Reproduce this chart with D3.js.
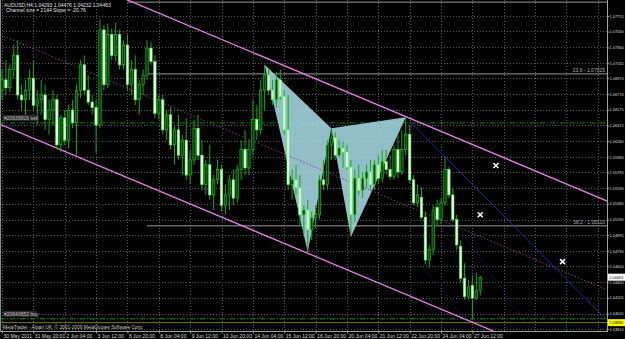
<!DOCTYPE html>
<html><head><meta charset="utf-8">
<script src="https://cdn.jsdelivr.net/npm/d3@7"></script>
<style>body{margin:0;background:#000;overflow:hidden}svg{display:block}</style>
</head><body>
<svg id="c" width="625" height="339"></svg>
<script>
// ---- data (prices) ----
const opens=[1.0682,1.0695,1.0685,1.0708,1.0726,1.0676,1.0670,1.0682,1.0697,1.0663,1.0670,1.0676,1.0645,1.0657,1.0670,1.0613,1.0647,1.0619,1.0657,1.0641,
1.0682,1.0714,1.0682,1.0667,1.0660,1.0638,1.0758,1.0689,1.0752,1.0726,1.0752,1.0714,1.0739,1.0689,1.0708,1.0670,1.0689,1.0701,1.0735,1.0718,
1.0653,1.0670,1.0632,1.0651,1.0613,1.0632,1.0600,1.0619,1.0575,1.0594,1.0634,1.0600,1.0563,1.0588,1.0550,1.0569,1.0582,1.0537,1.0550,1.0569,
1.0546,1.0582,1.0607,1.0584,1.0607,1.0645,1.0632,1.0682,1.0701,1.0682,1.0670,1.0695,1.0674,1.0632,1.0563,1.0569,1.0559,1.0525,1.0531,1.0506,
1.0521,1.0525,1.0569,1.0563,1.0613,1.0622,1.0600,1.0609,1.0604,1.0585,1.0525,1.0571,1.0556,1.0571,1.0579,1.0563,1.0588,1.0571,1.0592,1.0582,
1.0573,1.0607,1.0579,1.0607,1.0626,1.0569,1.0540,1.0547,1.0522,1.0468,1.0481,1.0534,1.0519,1.0540,1.0582,1.0550,1.0519,1.0485,1.0445,1.0422,
1.0436,1.0420,1.04293];
const highs=[1.0708,1.0720,1.0714,1.0739,1.0745,1.0689,1.0695,1.0708,1.0720,1.0682,1.0695,1.0689,1.0670,1.0682,1.0676,1.0651,1.0657,1.0663,1.0670,1.0689,
1.0720,1.0726,1.0701,1.0676,1.0670,1.0771,1.0764,1.0766,1.0760,1.0767,1.0758,1.0745,1.0752,1.0720,1.0726,1.0695,1.0708,1.0745,1.0743,1.0726,
1.0676,1.0676,1.0657,1.0661,1.0638,1.0651,1.0626,1.0647,1.0607,1.0645,1.0651,1.0619,1.0594,1.0613,1.0575,1.0594,1.0588,1.0563,1.0575,1.0582,
1.0588,1.0619,1.0632,1.0619,1.0670,1.0663,1.0695,1.0714,1.0710,1.0695,1.0705,1.0708,1.0682,1.0676,1.0582,1.0588,1.0575,1.0537,1.0544,1.0529,
1.0537,1.0575,1.0594,1.0619,1.0634,1.0629,1.0619,1.0617,1.0613,1.0594,1.0582,1.0588,1.0579,1.0588,1.0594,1.0594,1.0600,1.0607,1.0607,1.0600,
1.0613,1.0626,1.0632,1.0648,1.0638,1.0575,1.0563,1.0560,1.0529,1.0487,1.0537,1.0544,1.0546,1.0598,1.0585,1.0559,1.0525,1.0493,1.0464,1.0443,
1.0449,1.0452,1.04476];
const lows=[1.0670,1.0676,1.0680,1.0697,1.0670,1.0657,1.0647,1.0670,1.0657,1.0638,1.0651,1.0632,1.0626,1.0638,1.0607,1.0604,1.0613,1.0609,1.0634,1.0600,
1.0672,1.0676,1.0663,1.0651,1.0603,1.0634,1.0682,1.0685,1.0720,1.0718,1.0708,1.0708,1.0682,1.0676,1.0663,1.0651,1.0676,1.0695,1.0714,1.0647,
1.0645,1.0626,1.0619,1.0607,1.0588,1.0594,1.0575,1.0569,1.0563,1.0588,1.0594,1.0556,1.0550,1.0544,1.0531,1.0563,1.0529,1.0525,1.0531,1.0537,
1.0540,1.0569,1.0575,1.0575,1.0600,1.0619,1.0626,1.0657,1.0676,1.0663,1.0660,1.0670,1.0626,1.0556,1.0544,1.0550,1.0512,1.0500,1.0478,1.0493,
1.0508,1.0519,1.0556,1.0556,1.0594,1.0594,1.0597,1.0584,1.0582,1.0497,1.0516,1.0550,1.0546,1.0559,1.0556,1.0556,1.0563,1.0566,1.0575,1.0569,
1.0569,1.0571,1.0575,1.0600,1.0565,1.0537,1.0535,1.0519,1.0462,1.0458,1.0474,1.0512,1.0513,1.0536,1.0546,1.0516,1.0481,1.0440,1.0418,1.0418,
1.0393,1.0418,1.04232];
const closes=[1.0695,1.0685,1.0708,1.0726,1.0676,1.0670,1.0682,1.0697,1.0663,1.0670,1.0676,1.0645,1.0657,1.0670,1.0613,1.0647,1.0619,1.0657,1.0641,1.0682,
1.0714,1.0682,1.0667,1.0660,1.0638,1.0758,1.0689,1.0752,1.0726,1.0752,1.0714,1.0739,1.0689,1.0708,1.0670,1.0689,1.0701,1.0735,1.0718,1.0653,
1.0670,1.0632,1.0651,1.0613,1.0632,1.0600,1.0619,1.0575,1.0594,1.0634,1.0600,1.0563,1.0588,1.0550,1.0569,1.0582,1.0537,1.0550,1.0569,1.0546,
1.0582,1.0607,1.0584,1.0607,1.0645,1.0632,1.0682,1.0701,1.0682,1.0670,1.0695,1.0674,1.0632,1.0563,1.0569,1.0559,1.0525,1.0531,1.0506,1.0521,
1.0525,1.0569,1.0563,1.0613,1.0622,1.0600,1.0609,1.0604,1.0585,1.0525,1.0571,1.0556,1.0571,1.0579,1.0563,1.0588,1.0571,1.0592,1.0582,1.0573,
1.0607,1.0579,1.0607,1.0626,1.0569,1.0540,1.0550,1.0522,1.0468,1.0481,1.0531,1.0519,1.0540,1.0582,1.0550,1.0519,1.0487,1.0445,1.0422,1.0434,
1.0420,1.0429,1.04463];

const priceTicks=[1.07755,1.07560,1.07360,1.07165,1.06970,1.06770,1.06575,1.06375,1.06180,1.05980,1.05785,1.05590,1.05390,1.05190,1.04995,1.04795,1.04600,1.04400,1.04205,1.04005,1.03810];
const timeLabels=["30 May 2011","31 May 20:00","2 Jun 04:00","3 Jun 12:00","6 Jun 20:00","8 Jun 04:00","9 Jun 12:00","10 Jun 20:00","14 Jun 04:00","15 Jun 12:00","16 Jun 20:00","20 Jun 04:00","21 Jun 12:00","22 Jun 20:00","24 Jun 04:00","27 Jun 12:00"];
const timeGridBars=[0,8,16,24,32,40,48,56,64,72,80,88,96,104,112,120,128,136,144,152];

const patternXABCD=[[67,1.0714],[78,1.0478],[84,1.0634],[89,1.0497],[103,1.0648]];
const upperChannel=[[0,1.0862],[155,1.0541]];
const lowerChannel=[[-0.5,1.0639],[155,1.0317]];
const midChannel=[[-0.5,1.0752],[155,1.0429]];
const blueLine=[[104,1.0643],[155,1.0389]];
const blueDotted1=[[107.4,1.0459],[119.5,1.0385]];
const blueDotted2=[[116.8,1.0506],[134,1.0385]];
const crossMarks=[[126,1.0587],[122,1.0525],[143,1.0466]];
const fibLevels=[{label:"23.6 - 1.07025",price:1.07025},{label:"38.2 - 1.05110",price:1.05110}];
const fibTopLevel=1.0793;
const sellLevel=1.06407, buyLevel=1.03938, alertLevel=1.03890, lastPrice=1.04463;
const headerLines=["AUDUSD,H4  1.04293 1.04476 1.04232 1.04463","Channel size = 2144  Slope = -20.76"];

// ---- layout ----
const W=625,H=339,plotR=607,plotB=331;
const svg=d3.select("#c");
const x=d3.scaleLinear().domain([0,120]).range([2,472.4]);
const y=d3.scaleLinear().domain([1.03810,1.07755]).range([329,16]);
const font="'Liberation Sans',Arial,sans-serif";

svg.append("rect").attr("width",W).attr("height",H).attr("fill","#000");
svg.append("defs").append("clipPath").attr("id","clip").append("rect").attr("x",0).attr("y",0).attr("width",plotR).attr("height",plotB);
const g=svg.append("g").attr("clip-path","url(#clip)");

// grid
g.selectAll(".hg").data(priceTicks).join("line")
 .attr("x1",0).attr("x2",plotR).attr("y1",d=>Math.round(y(d))+0.5).attr("y2",d=>Math.round(y(d))+0.5)
 .attr("stroke","#5a5a5a").attr("stroke-dasharray","1,2");
g.selectAll(".vg").data(timeGridBars).join("line")
 .attr("y1",0).attr("y2",plotB).attr("x1",d=>Math.round(x(d))+0.5).attr("x2",d=>Math.round(x(d))+0.5)
 .attr("stroke","#5a5a5a").attr("stroke-dasharray","1,2");

// fib & level lines
g.append("line").attr("x1",x(32)).attr("x2",plotR).attr("y1",y(fibTopLevel)).attr("y2",y(fibTopLevel)).attr("stroke","#9a9a9a");
fibLevels.forEach(f=>{
  g.append("line").attr("x1",x(37)).attr("x2",plotR).attr("y1",y(f.price)).attr("y2",y(f.price)).attr("stroke","#9a9a9a");
  svg.append("text").attr("x",plotR-2).attr("y",y(f.price)-2).attr("text-anchor","end")
   .attr("font-family",font).attr("font-size",5).attr("fill","#b0b0b0").text(f.label);
});
g.append("line").attr("x1",0).attr("x2",plotR).attr("y1",y(sellLevel)).attr("y2",y(sellLevel)).attr("stroke","#0a8a0a").attr("stroke-dasharray","5,2,1,2");
g.append("line").attr("x1",0).attr("x2",plotR).attr("y1",y(buyLevel)).attr("y2",y(buyLevel)).attr("stroke","#0a9a0a").attr("stroke-dasharray","5,2,1,2");
g.append("line").attr("x1",0).attr("x2",plotR).attr("y1",y(alertLevel)).attr("y2",y(alertLevel)).attr("stroke","#7a7a10");

// harmonic pattern
const pt=d=>[x(d[0]),y(d[1])];
const P=patternXABCD;
[[P[0],P[1],P[2]],[P[2],P[3],P[4]]].forEach(tri=>{
  g.append("polygon").attr("points",tri.map(pt).map(p=>p.join(",")).join(" "))
   .attr("fill","#a6d8e4").attr("fill-opacity",0.88);
});

// channel & other lines
const line=d3.line().x(d=>x(d[0])).y(d=>y(d[1]));
g.append("path").attr("d",line(upperChannel)).attr("stroke","#e77fe7").attr("stroke-width",1.3).attr("fill","none");
g.append("path").attr("d",line(lowerChannel)).attr("stroke","#e77fe7").attr("stroke-width",1.3).attr("fill","none");
g.append("path").attr("d",line(midChannel)).attr("stroke","#8a3a8a").attr("stroke-dasharray","1.5,2").attr("fill","none");
g.append("path").attr("d",line(blueLine)).attr("stroke","#2a2ab0").attr("stroke-width",0.9).attr("fill","none");
g.append("path").attr("d",line(blueDotted1)).attr("stroke","#2525a0").attr("stroke-dasharray","1,2").attr("fill","none");
g.append("path").attr("d",line(blueDotted2)).attr("stroke","#2525a0").attr("stroke-dasharray","1,2").attr("fill","none");

// candles
const idx=d3.range(opens.length);
g.selectAll(".wick").data(idx).join("line")
 .attr("x1",i=>x(i)).attr("x2",i=>x(i)).attr("y1",i=>y(highs[i])).attr("y2",i=>y(lows[i]))
 .attr("stroke","#16a816").attr("stroke-width",1);
g.selectAll(".body").data(idx).join("rect")
 .attr("x",i=>x(i)-1.2).attr("width",2.4)
 .attr("y",i=>Math.min(y(opens[i]),y(closes[i])))
 .attr("height",i=>Math.max(1,Math.abs(y(opens[i])-y(closes[i]))))
 .attr("fill",i=>closes[i]<opens[i]?"#eaffea":"#064006")
 .attr("stroke",i=>closes[i]<opens[i]?"#50ff50":"#1ccc1c").attr("stroke-width",0.6);

// cross markers
crossMarks.forEach(c=>{
  const [cx,cy]=pt(c);
  g.append("path").attr("d",`M${cx-2.5},${cy-2.5}L${cx+2.5},${cy+2.5}M${cx-2.5},${cy+2.5}L${cx+2.5},${cy-2.5}`)
   .attr("stroke","#f4f4ff").attr("stroke-width",1.6);
});

// order labels
[["#20639916 sell",sellLevel],["#20640652 buy",buyLevel]].forEach(([t,p])=>{
  svg.append("rect").attr("x",3).attr("y",y(p)-8).attr("width",t.length*2.45+2).attr("height",6).attr("fill","#2a2a2a");
  svg.append("text").attr("x",4).attr("y",y(p)-3).attr("font-family",font).attr("font-size",5).attr("fill","#c0c0c0").text(t);
});

// header
headerLines.forEach((t,i)=>{
  svg.append("text").attr("x",i?6:4).attr("y",7+i*5).attr("font-family",font).attr("font-size",5).attr("fill","#e0e0e0").text(t);
});
svg.append("text").attr("x",3).attr("y",329).attr("font-family",font).attr("font-size",4.8).attr("fill","#c8c8c8")
 .text("MetaTrader - Alpari UK, © 2001-2009 MetaQuotes Software Corp.");

// frame
svg.append("line").attr("x1",0.5).attr("x2",0.5).attr("y1",0).attr("y2",plotB).attr("stroke","#8a8a8a");
svg.append("line").attr("x1",plotR+0.5).attr("x2",plotR+0.5).attr("y1",0).attr("y2",plotB).attr("stroke","#a0a0a0");
svg.append("line").attr("x1",0).attr("x2",plotR+1).attr("y1",plotB+0.5).attr("y2",plotB+0.5).attr("stroke","#a0a0a0");

// right axis
const ya=svg.append("g").attr("transform",`translate(${plotR+0.5},0)`)
 .call(d3.axisRight(y).tickValues(priceTicks).tickFormat(d3.format(".5f")).tickSize(1.5).tickPadding(0.5));
ya.select(".domain").remove();
ya.selectAll("line").attr("stroke","#a0a0a0");
ya.selectAll("text").attr("font-family",font).attr("font-size",3.9).attr("fill","#d8d8d8");

// bottom axis
const xa=svg.append("g").attr("transform",`translate(0,${plotB+0.5})`)
 .call(d3.axisBottom(x).tickValues(timeGridBars.slice(0,timeLabels.length)).tickFormat((d,i)=>timeLabels[i]).tickSize(2).tickPadding(0.5));
xa.select(".domain").remove();
xa.selectAll("line").attr("stroke","#a0a0a0");
xa.selectAll("text").attr("font-family",font).attr("font-size",5).attr("fill","#d8d8d8").attr("text-anchor","start").attr("dx",1);

// price boxes
[[lastPrice,"#ffffff"],[alertLevel,"#ffff00"]].forEach(([p,col])=>{
  svg.append("rect").attr("x",plotR+1).attr("y",y(p)-3.5).attr("width",W-plotR).attr("height",7).attr("fill",col);
  svg.append("text").attr("x",plotR+2).attr("y",y(p)+1.5).attr("font-family",font).attr("font-size",3.9).attr("fill","#000")
   .text(d3.format(".5f")(p));
});
</script>
</body></html>
